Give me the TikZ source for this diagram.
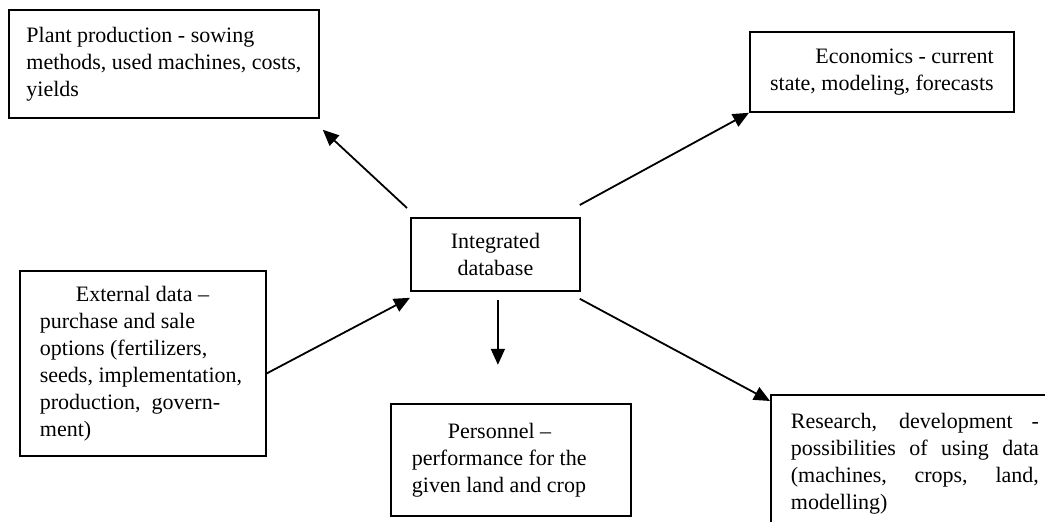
\documentclass[tikz,border=0pt]{standalone}
\usepackage{fontspec}
\setmainfont{Liberation Serif}
\usepackage{tikz}
\usetikzlibrary{arrows.meta,positioning,calc}

\newcommand{\jline}[1]{\makebox[124pt][s]{\spaceskip=0pt\relax #1}}

\begin{document}
\begin{tikzpicture}[->,>={Triangle[length=8pt,width=7pt]},line width=0.9pt,
                x=0.5pt,y=-0.5pt,
                infobox/.style={draw, anchor=north west, align=flush left, inner xsep=10.5pt,
                  font=\fontsize{11}{13.5}\selectfont}]
		\useasboundingbox (0,0) rectangle (1045,522);
		\clip (0,0) rectangle (1045,522);
		\begin{scope}
			\node [infobox, inner xsep=0pt, minimum width=155pt, minimum height=54pt] (plant) at (8,9)
				{Plant production - sowing\\ methods, used machines, costs,\\ yields};
			\node [infobox, align=right, inner xsep=0pt, minimum width=132pt, minimum height=40pt] (econ) at (749,31)
				{Economics - current\\ state, modeling, forecasts};
			\node [infobox, align=center, inner sep=0pt, minimum width=84.5pt, minimum height=36.5pt] (db) at (410,217)
				{Integrated\\ database};
			\node [infobox, text width=103pt, inner xsep=10pt, minimum height=92.5pt] (ext) at (19,270)
				{\hspace*{18pt}External data –\\ purchase and sale\\ options (fertilizers,\\ seeds, implementation,\\ production,\ \ govern-\\ ment)};
			\node [infobox, text width=99pt, minimum height=56pt] (pers) at (390,403)
				{\hspace*{18pt}Personnel –\\ performance for the\\ given land and crop};
			\node [infobox, align=justify, text width=124pt, inner xsep=10pt, inner ysep=9pt] (res) at (770,394)
				{\jline{Research, development -}\\ \jline{possibilities of using data}\\ \jline{(machines, crops, land,}\\ modelling)};

		    	\path ([shift={(-3,-9)}]db.north west) edge ([shift={(3,11)}]plant.south east)
			      ([shift={(-1,-12)}]db.north east) edge (econ.south west)
			      ([shift={(0,10)}]ext.east) edge ([shift={(0,6)}]db.south west)
			      ([shift={(2.5,8)}]db.south) edge ([shift={(2.5,73)}]db.south)
			      ([shift={(-1,7)}]db.south east) edge ([shift={(0,7)}]res.north west);
		\end{scope}
\end{tikzpicture}
\end{document}
